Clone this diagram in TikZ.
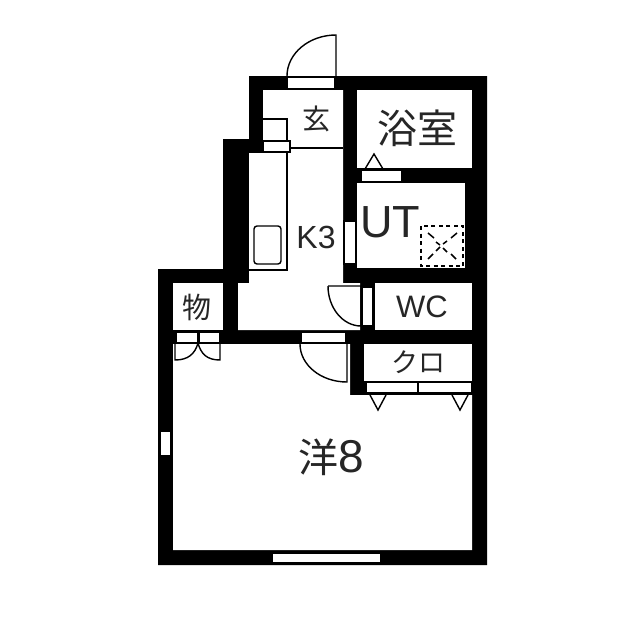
\documentclass[tikz,border=0pt]{standalone}
\usepackage{fontspec}
\setmainfont{Noto Sans CJK JP}
\newfontfamily\latinfont{Liberation Sans}
\usetikzlibrary{positioning}
\tikzset{
  wall/.style={fill=black,draw=none},
  room/.style={fill=white,draw=none},
  opening/.style={fill=white,draw=black,line width=1.2pt},
  fixture/.style={draw=black,line width=1.4pt},
  drain/.style={draw=black,line width=1.8pt,dash pattern=on 4pt off 3.5pt},
  label/.style={inner sep=0pt,text=black!85},
}
\begin{document}
\begin{tikzpicture}[x=1pt,y=-1pt]
    \useasboundingbox[fill=white](0,0) rectangle (640,640);
    % walls
    \fill[wall](249,76)--(487,76)--(487,565)--(158,565)--(158,269)--(223,269)--(223,139)--(249,139)--cycle;
    % rooms
    \fill[room](263,90)--(343,90)--(343,283)--(360,283)--(360,330)--(238,330)--(238,283)--(249,283)--(249,153)--(263,153)--cycle;
    \fill[room](357,90) rectangle (472,168);
    \fill[room](357,183) rectangle (465,268);
    \fill[room](375,283) rectangle (472,330);
    \fill[room](364,344) rectangle (472,381);
    \fill[room](173,283) rectangle (223,330);
    \fill[room](173,344)--(350,344)--(350,395)--(472,395)--(472,550)--(173,550)--cycle;
    % windows and door frames
    \draw[opening](287,77) rectangle (335,89);
    \draw[opening](361,170) rectangle (402,182);
    \draw[opening](344,221) rectangle (356,264);
    \draw[opening](362,287) rectangle (373,326);
    \draw[opening](301,332) rectangle (346,343);
    \draw[opening](176,332) rectangle (198,343);
    \draw[opening](199,332) rectangle (220,343);
    \draw[opening](366,382) rectangle (418,393);
    \draw[opening](418,382) rectangle (472,393);
    \draw[opening](160,431) rectangle (171,456);
    \draw[opening](272,553) rectangle (381,563);
    % doors
    \draw[fixture](336,77)--(336,35) .. controls (309,35) and (287,53.5) .. (287,76);
    \draw[fixture](347,344)--(347,382) .. controls (321,382) and (300,365) .. (300,344);
    \draw[fixture](328,286)--(361,286)--(361,326) .. controls (343,326) and (328,308) .. (328,286);
    \draw[fixture](175,343)--(175,360) .. controls (188,360) and (195,354) .. (198,343);
    \draw[fixture](220,343)--(220,360) .. controls (207,360) and (201,354) .. (198,343);
    \draw[fixture](365,169)--(374,154)--(383,169);
    \draw[fixture](370,395)--(378,410)--(386,395);
    \draw[fixture](452,395)--(460,410)--(468,395);
    % kitchen
    \draw[fixture](263,119)--(287,119)--(287,270)--(249,270);
    \draw[opening](263,141) rectangle (290,152);
    \draw[fixture](290,148)--(343,148);
    \draw[fixture,rounded corners=3pt](254,226) rectangle (281,264);
    % washer drain
    \draw[drain](421,226) rectangle (463,266);
    \draw[fixture,line width=1.5pt](428,233)--(434,238);
    \draw[fixture,line width=1.5pt](457,233)--(451,238);
    \draw[fixture,line width=1.5pt](428,259)--(433,254);
    \draw[fixture,line width=1.5pt](456,259)--(451,254);
    \draw[fixture,line width=1.5pt](436,242)--(440,245);
    \draw[fixture,line width=1.5pt](447,241)--(443,244);
    \draw[fixture,line width=1.5pt](436,251)--(440,247);
    \draw[fixture,line width=1.5pt](447,252)--(443,248);
    % labels
    \node[label,font=\fontsize{28}{28}\selectfont](genkan) at (316,119){玄};
    \node[label,font=\fontsize{40}{40}\selectfont](bath) at (417,128){浴室};
    \node[label,font=\latinfont\fontsize{45}{45}\selectfont](ut) at (390,222){UT};
    \node[label,font=\latinfont\fontsize{32}{32}\selectfont](kitchen) at (316,237){K3};
    \node[label,font=\latinfont\fontsize{31}{31}\selectfont](wc) at (422,307){WC};
    \node[label,font=\fontsize{27}{27}\selectfont](closet) at (418,362){クロ};
    \node[label,font=\fontsize{29}{29}\selectfont](storage) at (197,307){物};
    \node[label,font=\fontsize{40}{40}\selectfont](western) at (331,457){洋{\latinfont\fontsize{46}{46}\selectfont 8}};
  \end{tikzpicture}
\end{document}
